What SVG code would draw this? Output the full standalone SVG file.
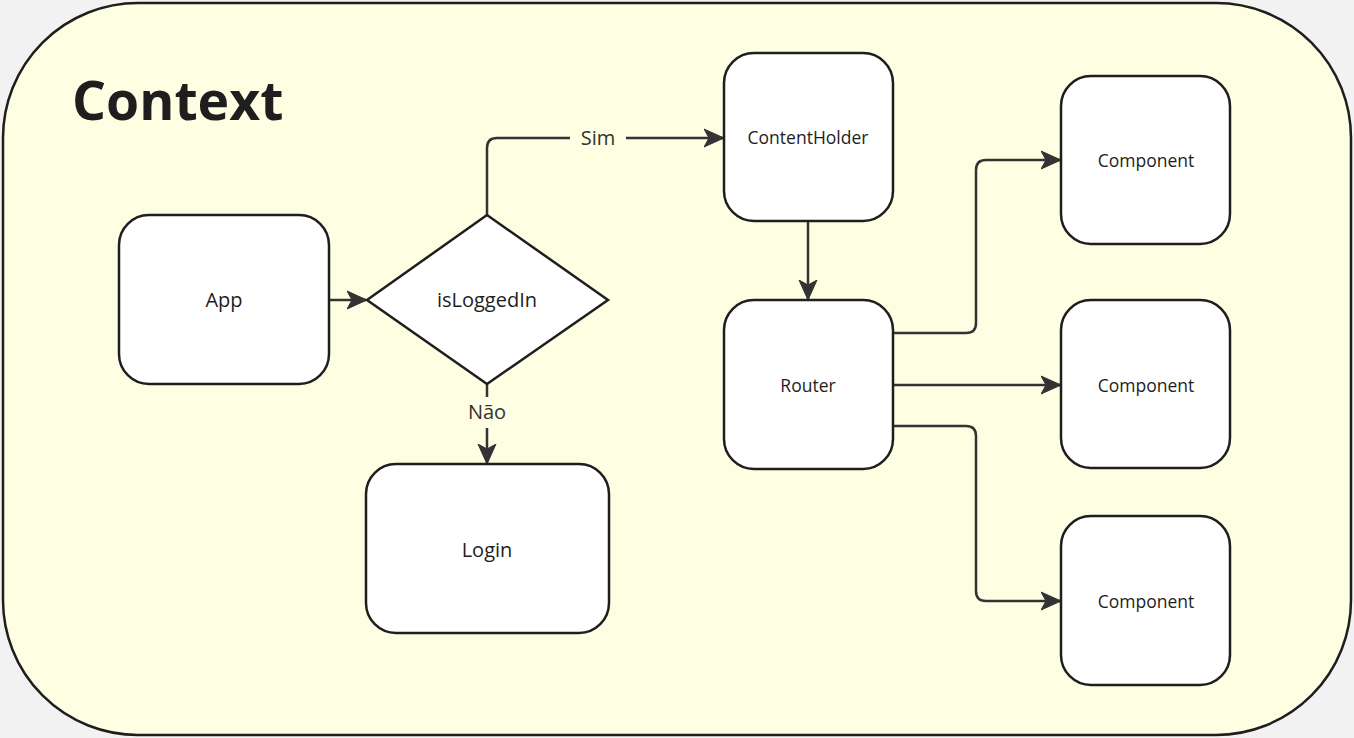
<svg xmlns="http://www.w3.org/2000/svg" width="1354" height="738" viewBox="0 0 1354 738">
<defs>
<style>
.node{fill:#ffffff;stroke:#1e1e1e;stroke-width:2.5}
.lbl{font-family:"Open Sans","Noto Sans",sans-serif;fill:#1e1e1e;text-anchor:middle;dominant-baseline:central}
.big{font-size:20px}
.sm{font-size:17.5px}
.edge{fill:none;stroke:#333333;stroke-width:2.5;stroke-linejoin:round}
.elbl{font-family:"Open Sans","Noto Sans",sans-serif;font-size:20px;fill:#333333;text-anchor:middle;dominant-baseline:central}
</style>
<marker id="arr" viewBox="0 0 20 20" refX="19" refY="10" markerWidth="20" markerHeight="20" markerUnits="userSpaceOnUse" orient="auto">
<path d="M0,1 L20,10 L0,19 L5,10 z" fill="#333333" stroke="#333333" stroke-width="1" stroke-linejoin="round"/>
</marker>
</defs>
<rect width="1354" height="738" fill="#f2f2f2"/>
<g id="context">
<rect x="3" y="3" width="1348" height="732" rx="135" ry="135" fill="#fefee3" stroke="#1e1e1e" stroke-width="2.5"/>
<text x="72" y="99" font-family="'Open Sans','Noto Sans',sans-serif" font-weight="bold" font-size="53.5" fill="#1e1e1e" dominant-baseline="central">Context</text>
</g>
<g id="connectors">
<path class="edge" d="M329,300 L366,300" marker-end="url(#arr)"/>
<path class="edge" d="M487,215 L487,148 Q487,138 497,138 L570,138 M626,138 L723,138" marker-end="url(#arr)"/>
<text class="elbl" x="598" y="137">Sim</text>
<path class="edge" d="M487,384 L487,397 M487,428 L487,463" marker-end="url(#arr)"/>
<text class="elbl" x="487" y="411">Não</text>
<path class="edge" d="M808,221 L808,299" marker-end="url(#arr)"/>
<path class="edge" d="M893,333 L966,333 Q976,333 976,323 L976,170 Q976,160 986,160 L1060,160" marker-end="url(#arr)"/>
<path class="edge" d="M893,385 L1060,385" marker-end="url(#arr)"/>
<path class="edge" d="M893,426 L966,426 Q976,426 976,436 L976,591 Q976,601 986,601 L1060,601" marker-end="url(#arr)"/>
</g>
<g id="app">
<rect class="node" x="119" y="215" width="210" height="169" rx="30"/>
<text class="lbl big" x="224" y="299">App</text>
</g>
<g id="isLoggedIn">
<polygon class="node" points="367,300 487,215 608,300 487,384"/>
<text class="lbl big" x="487" y="299">isLoggedIn</text>
</g>
<g id="login">
<rect class="node" x="366" y="464" width="243" height="169" rx="30"/>
<text class="lbl big" x="487" y="549">Login</text>
</g>
<g id="contentholder">
<rect class="node" x="724" y="53" width="169" height="168" rx="30"/>
<text class="lbl sm" x="808" y="137">ContentHolder</text>
</g>
<g id="router">
<rect class="node" x="724" y="300" width="169" height="169" rx="30"/>
<text class="lbl sm" x="808" y="385">Router</text>
</g>
<g id="component1">
<rect class="node" x="1061" y="76" width="169" height="168" rx="30"/>
<text class="lbl sm" x="1146" y="160">Component</text>
</g>
<g id="component2">
<rect class="node" x="1061" y="300" width="169" height="168" rx="30"/>
<text class="lbl sm" x="1146" y="385">Component</text>
</g>
<g id="component3">
<rect class="node" x="1061" y="516" width="169" height="169" rx="30"/>
<text class="lbl sm" x="1146" y="601">Component</text>
</g>
</svg>
